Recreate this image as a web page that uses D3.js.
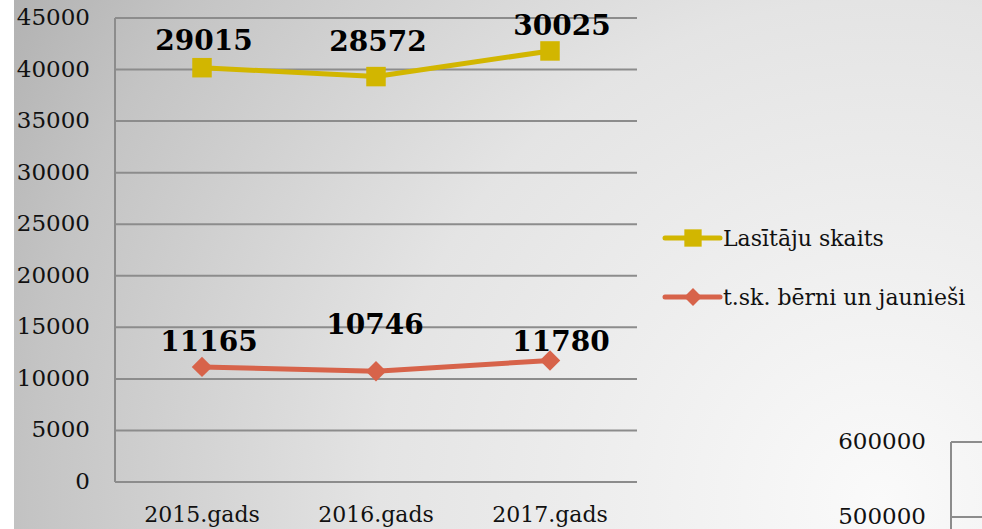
<!DOCTYPE html>
<html lang="en">
<head>
<meta charset="utf-8">
<title>Lasītāju skaits</title>
<style>
body {
	margin: 0;
	background: #fff;
	overflow: hidden;
}
#chart svg {
	display: block;
}
text {
	font-family: "DejaVu Serif", "Liberation Serif", serif;
	font-variant-numeric: oldstyle-nums;
	fill: #111;
}
.value-label {
	font-weight: bold;
	font-size: 28px;
	text-anchor: middle;
	fill: #000;
}
.grid line {
	stroke: #8c8c8c;
	stroke-width: 2px;
}
</style>
</head>
<body>
<div id="chart"></div>
<script src="https://d3js.org/d3.v7.min.js"></script>
<script>
	var years = ["2015.gads", "2016.gads", "2017.gads"];
	var seriesNames = ["Lasītāju skaits", "t.sk. bērni un jaunieši"];
	var readers = [29015, 28572, 30025];
	var youth = [11165, 10746, 11780];
	var yTicks = [0, 5000, 10000, 15000, 20000, 25000, 30000, 35000, 40000, 45000];
	// fragment of the next chart, bottom right corner
	var nextTicks = [500000, 600000];

	var width = 982, height = 529;
	var plotLeft = 115, plotRight = 637, plotTop = 18, plotBottom = 482;

	var svg = d3.select("#chart").append("svg")
		.attr("width", width)
		.attr("height", height);

	var defs = svg.append("defs");
	var grad = defs.append("radialGradient")
		.attr("id", "bg")
		.attr("gradientUnits", "userSpaceOnUse")
		.attr("cx", 880).attr("cy", 500).attr("r", 1000);
	grad.append("stop").attr("offset", 0).attr("stop-color", "#fafafa");
	grad.append("stop").attr("offset", 0.5).attr("stop-color", "#e4e4e4");
	grad.append("stop").attr("offset", 0.85).attr("stop-color", "#c4c4c4");
	grad.append("stop").attr("offset", 1).attr("stop-color", "#b2b2b2");

	svg.append("rect")
		.attr("x", 14).attr("y", 0)
		.attr("width", width - 14).attr("height", height)
		.attr("fill", "url(#bg)");

	var x = d3.scaleBand().domain(years).range([plotLeft, plotRight]);
	var y = d3.scaleLinear().domain([0, 45000]).range([plotBottom, plotTop]);

	// gridlines
	var grid = svg.append("g").attr("class", "grid");
	grid.selectAll("line.h").data(yTicks).enter().append("line")
		.attr("class", "h")
		.attr("x1", plotLeft).attr("x2", plotRight)
		.attr("y1", function(d) { return y(d); })
		.attr("y2", function(d) { return y(d); });
	grid.append("line")
		.attr("x1", plotLeft).attr("x2", plotLeft)
		.attr("y1", plotTop).attr("y2", plotBottom);

	// y labels
	svg.append("g").selectAll("text").data(yTicks).enter().append("text")
		.attr("x", 90)
		.attr("y", function(d) { return y(d) + 7; })
		.attr("text-anchor", "end")
		.attr("font-size", "23px")
		.text(function(d) { return d; });

	// x labels
	svg.append("g").selectAll("text").data(years).enter().append("text")
		.attr("x", function(d) { return x(d) + x.bandwidth() / 2; })
		.attr("y", 522)
		.attr("text-anchor", "middle")
		.attr("font-size", "22px")
		.text(function(d) { return d; });

	// stacked line chart: readers sit on top of youth
	var youthPts = years.map(function(d, i) { return { cat: d, v: youth[i], top: youth[i] }; });
	var readerPts = years.map(function(d, i) { return { cat: d, v: readers[i], top: youth[i] + readers[i] }; });

	var cx = function(d) { return x(d.cat) + x.bandwidth() / 2; };

	var line = d3.line()
		.x(cx)
		.y(function(d) { return y(d.top); });

	var yellow = "#d2b600", red = "#d7634a";

	svg.append("path").datum(readerPts)
		.attr("d", line)
		.attr("fill", "none").attr("stroke", yellow).attr("stroke-width", 5);
	svg.append("path").datum(youthPts)
		.attr("d", line)
		.attr("fill", "none").attr("stroke", red).attr("stroke-width", 5);

	var sq = d3.symbol().type(d3.symbolSquare).size(380);
	// diamond = square turned 45 degrees, as wide as it is tall
	var dia = d3.symbol().type(d3.symbolSquare).size(210);

	svg.append("g").selectAll("path").data(readerPts).enter().append("path")
		.attr("d", sq)
		.attr("transform", function(d) { return "translate(" + cx(d) + "," + y(d.top) + ")"; })
		.attr("fill", yellow);
	svg.append("g").selectAll("path").data(youthPts).enter().append("path")
		.attr("d", dia)
		.attr("transform", function(d) { return "translate(" + cx(d) + "," + y(d.top) + ") rotate(45)"; })
		.attr("fill", red);

	// value labels (offsets as placed in the original)
	var readerOff = [[2, -18], [2, -26], [12, -16]];
	var youthOff = [[7, -16], [-1, -37], [11, -10]];

	svg.append("g").selectAll("text").data(readerPts).enter().append("text")
		.attr("class", "value-label")
		.attr("x", function(d, i) { return cx(d) + readerOff[i][0]; })
		.attr("y", function(d, i) { return y(d.top) + readerOff[i][1]; })
		.text(function(d) { return d.v; });
	svg.append("g").selectAll("text").data(youthPts).enter().append("text")
		.attr("class", "value-label")
		.attr("x", function(d, i) { return cx(d) + youthOff[i][0]; })
		.attr("y", function(d, i) { return y(d.top) + youthOff[i][1]; })
		.text(function(d) { return d.v; });

	// legend
	var legend = svg.append("g").selectAll("g").data(seriesNames).enter().append("g")
		.attr("transform", function(d, i) { return "translate(665," + (238 + i * 59) + ")"; });
	legend.append("line")
		.attr("x1", 0).attr("x2", 55)
		.attr("stroke", function(d, i) { return i ? red : yellow; })
		.attr("stroke-width", 5).attr("stroke-linecap", "round");
	legend.append("path")
		.attr("d", function(d, i) { return d3.symbol().type(d3.symbolSquare).size(i ? 160 : 300)(); })
		.attr("transform", function(d, i) { return i ? "translate(28,0) rotate(45)" : "translate(28,0)"; })
		.attr("fill", function(d, i) { return i ? red : yellow; });
	legend.append("text")
		.attr("x", 58).attr("y", 8)
		.attr("font-size", "22px")
		.text(function(d) { return d; });

	// part of the following chart
	var y2 = d3.scaleLinear().domain([500000, 600000]).range([517, 442]);
	var frag = svg.append("g").attr("class", "grid");
	frag.selectAll("line.h").data(nextTicks).enter().append("line")
		.attr("class", "h")
		.attr("x1", 951).attr("x2", 990)
		.attr("y1", function(d) { return y2(d); })
		.attr("y2", function(d) { return y2(d); });
	frag.append("line")
		.attr("x1", 951).attr("x2", 951)
		.attr("y1", y2(600000)).attr("y2", 540);
	svg.append("g").selectAll("text").data(nextTicks).enter().append("text")
		.attr("x", 926)
		.attr("y", function(d) { return y2(d) + 7; })
		.attr("text-anchor", "end")
		.attr("font-size", "23px")
		.text(function(d) { return d; });
</script>
</body>
</html>
